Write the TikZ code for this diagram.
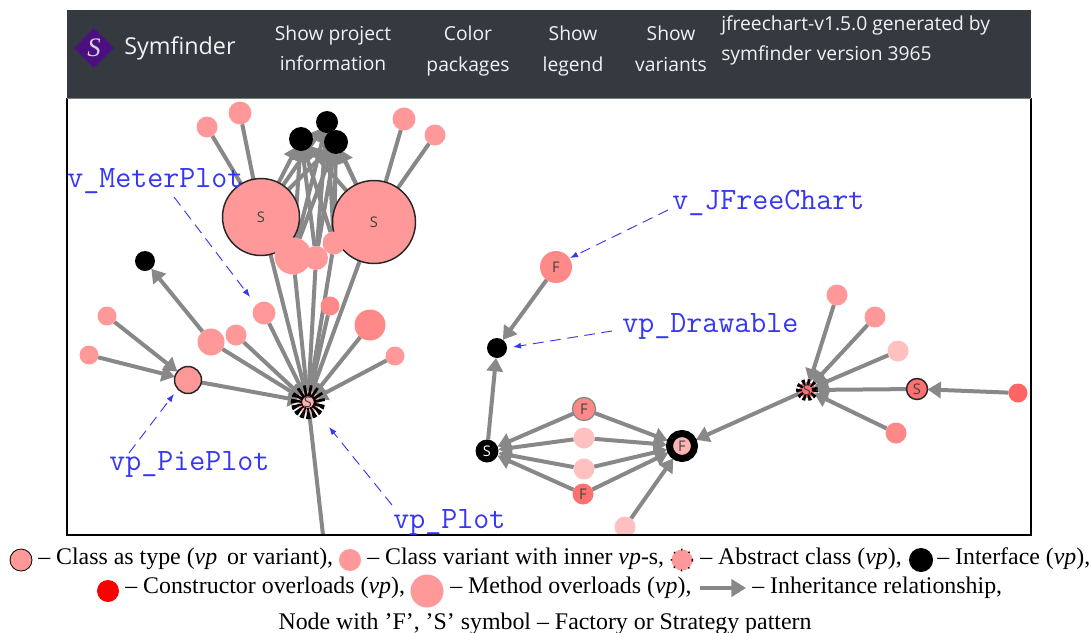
\documentclass[tikz,border=0pt]{standalone}
\usepackage{fontspec}
\setmainfont{Liberation Serif}
\setsansfont{Open Sans}
\setmonofont{Latin Modern Mono}
\usetikzlibrary{arrows.meta,shapes.geometric}
\definecolor{pk}{HTML}{FF9999}
\definecolor{pkm}{HTML}{FF8888}
\definecolor{pkd}{HTML}{FF7070}
\definecolor{pkl}{HTML}{FFC0C0}
\definecolor{bar}{HTML}{343A40}
\definecolor{edgec}{HTML}{888888}
\definecolor{lbl}{HTML}{3636F5}
\definecolor{logo}{HTML}{4B0F7F}
\definecolor{barfg}{HTML}{F2F2F2}
\pgfdeclarelayer{bg}
\pgfsetlayers{bg,main}
\tikzset{
  rad/.style={circle,inner sep=0pt,outer sep=0pt,minimum size=#1*0.75pt,text=black!75,font=\sffamily\fontsize{11pt}{11pt}\selectfont},
  stk/.style={draw=black!85,line width=1.1pt},
  edg/.style={draw=edgec,line width=3pt},
  arr/.style={edg,-{Triangle[length=10pt,width=12pt]}},
  hubarr/.style={arr,shorten >=-3.5pt},
  kiarr/.style={arr,shorten >=-3pt},
  bigarr/.style={arr,shorten >=2pt},
  callout/.style={draw=lbl,line width=0.7pt,dash pattern=on 8pt off 5pt,-{Latex[length=6pt,width=4.5pt]}},
  calltext/.style={text=lbl,font=\ttfamily\fontsize{23.3pt}{23.3pt}\selectfont,inner sep=0pt,anchor=base west},
  menu/.style={text=barfg,font=\sffamily\fontsize{14.45pt}{14.45pt}\selectfont,inner sep=0pt,anchor=base},
  leg/.style={font=\fontsize{17.9pt}{17.9pt}\selectfont,inner sep=0pt,anchor=base west}
}
\begin{document}
\begin{tikzpicture}[x=0.75pt,y=-0.75pt]
\useasboundingbox (0,0) rectangle (1091,632);
\begin{pgfonlayer}{bg}
\fill[bar] (67,10) rectangle (1031,98);
\end{pgfonlayer}
% header
\node[diamond,aspect=1,fill=logo,inner sep=0pt,minimum size=30pt] (logod) at (94,48) {};
\node[text=barfg!85!logo,font=\itshape\fontsize{20pt}{20pt}\selectfont,inner sep=0pt] (logos) at (94,48) {S};
\node[text=barfg,font=\sffamily\fontsize{17.5pt}{17.5pt}\selectfont,inner sep=0pt,anchor=base west] (brand) at (124,54) {Symfinder};
\node[menu] (m1a) at (333,40) {Show project};
\node[menu] (m1b) at (333,70) {information};
\node[menu] (m2a) at (468,40) {Color};
\node[menu] (m2b) at (468,71) {packages};
\node[menu] (m3a) at (573,40) {Show};
\node[menu] (m3b) at (573,71) {legend};
\node[menu] (m4a) at (671,40) {Show};
\node[menu] (m4b) at (671,71) {variants};
\node[menu,anchor=base west] (inf1) at (721,30) {jfreechart-v1.5.0 generated by};
\node[menu,anchor=base west] (inf2) at (721,60) {symfinder version 3965};
% left cluster
\node[rad=21,fill=pk] (a) at (207,127) {};
\node[rad=23,fill=pk] (b) at (240,113) {};
\node[rad=24,fill=black] (k1) at (301,139) {};
\node[rad=22,fill=black] (k2) at (327,122) {};
\node[rad=24,fill=black] (k3) at (336,142) {};
\node[rad=23,fill=pk] (c) at (404,119) {};
\node[rad=21,fill=pk] (d) at (435,135) {};
\node[rad=77,fill=pk,stk] (s1) at (261,217) {S};
\node[rad=83,fill=pk,stk] (s2) at (374,222) {S};
\node[rad=37,fill=pk] (bl1) at (293,256) {};
\node[rad=24,fill=pk] (bl2) at (316,258) {};
\node[rad=23,fill=pk] (bl3) at (334,243) {};
\node[rad=20,fill=black] (k4) at (145,261) {};
\node[rad=19,fill=pk] (e) at (107,316) {};
\node[rad=19,fill=pk] (f) at (89,355) {};
\node[rad=27,fill=pk,stk] (pie) at (188,380) {};
\node[rad=27,fill=pk] (g) at (211,342) {};
\node[rad=21,fill=pk] (h) at (236,335) {};
\node[rad=23,fill=pk] (i) at (264,313) {};
\node[rad=19,fill=pkm] (j) at (330,306) {};
\node[rad=31,fill=pkm] (l) at (370,325) {};
\node[rad=19,fill=pk] (m) at (395,356) {};
\node[rad=23,fill=pkl!60!pk,draw=black,line width=8.5pt,dash pattern=on 2.1pt off 1.5pt] (hub) at (308,402) {S};
\coordinate (down) at (323,535);
% right cluster
\node[rad=32,fill=pkm] (jf) at (556,267) {F};
\node[rad=20,fill=black] (dr) at (497,348) {};
\node[rad=23,fill=black,text=white] (sb) at (487,451) {S};
\node[rad=23,fill=pkm,draw=edgec,line width=1pt] (f1) at (584,409) {F};
\node[rad=21,fill=pkl] (f2) at (584,438) {};
\node[rad=21,fill=pkl] (f3) at (584,469) {};
\node[rad=21,fill=pkd] (f4) at (583,494) {F};
\node[rad=25,fill=pkl!70!pk,draw=black,line width=5.25pt] (fb) at (682,446) {F};
\begin{scope}
\clip (67,98) rectangle (1031,535);
\node[rad=21,fill=pkl] (n) at (625,527) {};
\end{scope}
\node[rad=21,fill=pk] (p) at (837,295) {};
\node[rad=21,fill=pk] (q) at (875,317) {};
\node[rad=21,fill=pkl] (r1) at (898,351) {};
\node[rad=16,fill=pkd,draw=black,line width=4.5pt,dash pattern=on 2pt off 1.6pt] (hub2) at (807,390) {S};
\node[rad=21,fill=pkd,stk] (s3) at (917,389) {S};
\node[rad=19,fill=pkd!90!red] (t) at (1018,393) {};
\node[rad=21,fill=pkm] (u) at (896,433) {};
\begin{pgfonlayer}{bg}
\foreach \x in {a,b} \draw[edg] (\x) -- (s1);
\foreach \x in {c,d} \draw[edg] (\x) -- (s2);
\foreach \x in {s1,s2,bl1,bl2,bl3} \foreach \y in {k1,k2,k3} \draw[kiarr] (\x) -- (\y);
\foreach \x in {s1,bl1,bl2,bl3,s2,g,h,i,j,l,m,pie} \draw[hubarr] (\x) -- (hub);
\draw[edg] (down) -- (hub);
\draw[arr] (g) -- (k4);
\foreach \x in {e,f} \draw[arr] (\x) -- (pie);
\draw[arr] (jf) -- (dr);
\draw[arr] (sb) -- (dr);
\foreach \x in {f1,f2,f3,f4} {\draw[arr] (\x) -- (sb); \draw[bigarr] (\x) -- (fb);}
\draw[bigarr] (n) -- (fb);
\draw[bigarr] (hub2) -- (fb);
\foreach \x in {p,q,r1,s3,u} \draw[arr] (\x) -- (hub2);
\draw[arr] (t) -- (s3);
\end{pgfonlayer}
% frame
\draw[black,line width=1pt] (67,98) -- (67,535) -- (1031,535) -- (1031,98);
\draw[black!50,line width=0.6pt] (67,98) -- (1031,98);
% callouts
\node[calltext] (lm) at (67,187) {v\_MeterPlot};
\node[calltext] (lp) at (109,470) {vp\_PiePlot};
\node[calltext] (lv) at (393,528) {vp\_Plot};
\node[calltext] (lj) at (672,209) {v\_JFreeChart};
\node[calltext] (ld) at (622,332) {vp\_Drawable};
\coordinate (cm1) at (174,197); \coordinate (cm2) at (250,297);
\coordinate (cp1) at (129,453); \coordinate (cp2) at (174,394);
\coordinate (cv1) at (392,505); \coordinate (cv2) at (329,427);
\coordinate (cj1) at (668,210); \coordinate (cj2) at (570,258);
\coordinate (cd1) at (612,331); \coordinate (cd2) at (513,347);
\draw[callout] (cm1) -- (cm2);
\draw[callout] (cp1) -- (cp2);
\draw[callout] (cv1) -- (cv2);
\draw[callout] (cj1) -- (cj2);
\draw[callout] (cd1) -- (cd2);
% legend
\node[rad=22,fill=pk,draw=black,line width=.6pt] (li1) at (21,560) {};
\node[leg] (lt1) at (38,564) {– Class as type (\textit{vp}\, or variant),};
\node[rad=22,fill=pk] (li2) at (350,560) {};
\node[leg] (lt2) at (367,564) {– Class variant with inner \textit{vp}-s,};
\node[rad=21,fill=pk,draw=black,line width=1.2pt,dash pattern=on 1pt off 5pt] (li3) at (682,560) {};
\node[leg] (lt3) at (700,564) {– Abstract class (\textit{vp}),};
\node[rad=24,fill=black] (li4) at (921,560) {};
\node[leg] (lt4) at (937,564) {– Interface (\textit{vp}),};
\node[rad=22,fill=red] (li5) at (108,591) {};
\node[leg] (lt5) at (125,593) {– Constructor overloads (\textit{vp}),};
\node[rad=33,fill=pk] (li6) at (427,591) {};
\node[leg] (lt6) at (450,593) {– Method overloads (\textit{vp}),};
\coordinate (la1) at (700,588); \coordinate (la2) at (746,588);
\draw[edgec,line width=2.6pt,-{Triangle[length=11pt,width=13pt]}] (la1) -- (la2);
\node[leg] (lt7) at (752,593) {– Inheritance relationship,};
\node[leg,anchor=base] (lt8) at (545,629) {Node with ’F’, ’S’ symbol – Factory or Strategy pattern};
\end{tikzpicture}
\end{document}
